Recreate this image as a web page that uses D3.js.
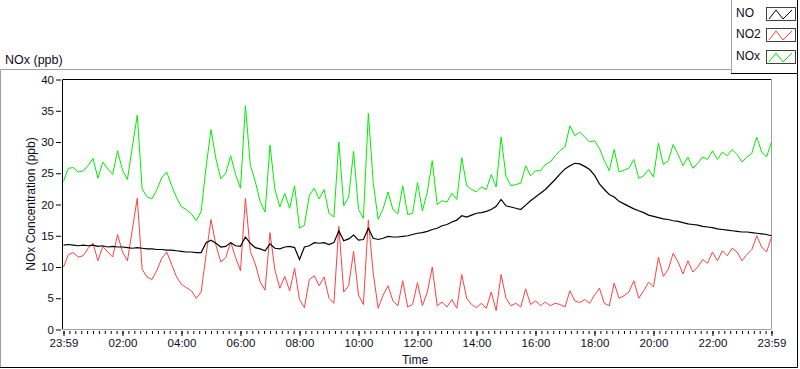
<!DOCTYPE html>
<html>
<head>
<meta charset="utf-8">
<script src="https://cdn.jsdelivr.net/npm/d3@7"></script>
<style>
  body { margin: 0; background: #fff; }
  svg { display: block; font-family: "Liberation Sans", Arial, sans-serif; }
</style>
</head>
<body>
<svg id="chart" width="800" height="369"></svg>
<script>
// readings every 10 minutes, from 23:59 to 23:59 (hours 0..24)
const stepHours = 10 / 60;

const noValues = [
  13.5,13.6,13.5,13.4,13.5,13.4,13.5,13.3,13.4,13.2,13.3,13.2,13.2,13.1,13.0,13.1,13.0,12.9,12.9,
  12.8,12.8,12.7,12.7,12.6,12.5,12.4,12.4,12.3,12.3,
  13.9,14.3,13.8,13.2,13.3,13.9,13.4,13.3,14.8,13.8,13.1,12.9,12.6,13.7,13.0,12.9,13.2,13.3,13.1,11.2,
  13.2,13.4,13.9,13.8,13.9,13.6,13.9,15.8,14.2,14.5,15.1,14.3,14.4,16.2,14.6,14.4,14.6,14.9,14.8,14.8,
  14.9,15.0,15.2,15.4,15.5,15.7,16.0,16.2,16.6,16.8,17.2,17.5,18.2,18.0,18.3,18.6,18.7,18.9,19.2,19.7,
  20.8,19.8,19.6,19.4,19.2,19.9,20.6,21.2,21.8,22.4,23.2,24.0,24.9,25.7,26.2,26.6,26.5,26.1,25.6,24.7,
  23.3,22.4,21.6,21.2,20.5,20.1,19.7,19.3,19.0,18.7,18.3,18.1,17.9,17.7,17.6,17.4,17.3,17.1,16.9,16.8,
  16.7,16.5,16.4,16.3,16.1,16.0,15.9,15.8,15.7,15.6,15.6,15.5,15.4,15.3,15.2,15.0
];

const no2Values = [
  10.0,12.0,12.3,11.6,11.8,13.0,13.8,11.0,13.3,12.4,11.6,15.2,12.4,11.0,16.0,21.0,9.6,8.4,8.0,
  9.5,11.4,12.4,10.4,8.4,7.2,6.7,6.2,5.0,6.0,
  12.0,17.6,13.5,10.8,11.5,14.0,11.5,9.4,21.0,12.5,10.5,7.6,6.3,15.5,9.5,6.6,8.5,6.2,9.8,4.8,
  3.5,8.0,8.6,7.0,8.4,5.0,4.2,16.5,6.0,7.0,12.5,5.5,4.0,17.5,9.0,3.4,5.5,7.0,4.6,3.8,
  7.8,3.6,4.0,7.5,3.8,6.0,10.0,3.8,4.4,3.6,4.8,3.4,8.8,5.0,4.0,3.5,4.2,3.4,6.0,3.0,
  8.8,5.0,3.8,4.2,3.6,6.5,4.0,4.6,3.8,4.4,3.8,4.2,4.0,3.6,6.2,4.6,4.3,4.8,4.2,5.5,
  6.6,4.2,3.8,7.4,5.0,5.4,6.0,7.8,5.0,6.2,7.6,6.8,11.6,8.5,9.6,12.2,10.8,8.9,11.0,9.2,
  10.0,11.2,10.6,12.4,11.0,12.6,11.8,13.0,12.4,11.0,12.0,12.8,15.0,13.2,12.4,14.8
];

const noxValues = [
  23.7,25.8,25.9,25.2,25.4,26.2,27.4,24.2,26.8,25.7,24.8,28.6,25.5,24.0,29.2,34.3,22.5,21.2,20.9,
  22.4,24.3,25.2,23.0,21.1,19.6,19.2,18.5,17.4,18.9,
  26.0,32.0,27.3,24.1,25.0,27.8,24.8,22.6,35.8,26.3,23.7,20.5,18.8,29.5,22.4,19.6,21.8,19.4,23.0,16.2,
  16.7,21.5,22.6,20.9,22.4,18.6,18.0,30.0,19.8,21.2,28.5,19.2,17.8,34.6,23.5,17.6,19.3,22.0,19.2,18.5,
  23.0,18.4,18.6,23.5,19.0,22.0,27.0,20.0,20.6,20.4,21.8,20.8,27.5,23.0,22.4,22.0,22.8,22.4,24.8,22.8,
  30.8,24.5,23.0,23.2,23.4,26.2,24.6,25.4,25.4,26.4,26.8,27.8,28.6,29.2,32.6,31.0,31.6,30.8,30.0,30.2,
  29.0,27.0,25.4,28.8,25.2,25.5,25.8,27.2,24.2,24.6,25.6,24.4,29.8,26.4,27.0,29.6,28.0,26.2,27.6,25.8,
  26.6,27.6,27.2,28.6,27.2,28.4,27.8,28.8,28.0,26.8,27.6,28.2,30.8,28.4,27.6,30.0
];

const seriesNames = ["NO", "NO2", "NOx"];
const seriesColors = ["#000000", "#ff4040", "#00f000"];
const yTicks = [0, 5, 10, 15, 20, 25, 30, 35, 40];
const xTickHours = [0, 2, 4, 6, 8, 10, 12, 14, 16, 18, 20, 22, 24];
const xTickLabels = ["23:59", "02:00", "04:00", "06:00", "08:00", "10:00", "12:00",
                     "14:00", "16:00", "18:00", "20:00", "22:00", "23:59"];

const svg = d3.select("#chart");
const textColor = "#0c0c1e";

const x = d3.scaleLinear().domain([0, 24]).range([63.5, 771.5]);
const y = d3.scaleLinear().domain([0, 40]).range([329.5, 79.5]);

// outer panel frame
svg.append("path").attr("d", "M0.5,367 V69.5 H731").attr("fill", "none").attr("stroke", "#a0a0a0");
svg.append("path").attr("d", "M0,367.5 H797.5 V74").attr("fill", "none").attr("stroke", "#000");

// plot area border
svg.append("path").attr("d", "M62.5,330 V79.5 H771").attr("fill", "none").attr("stroke", "#000");
svg.append("path").attr("d", "M62,329.5 H771.5 V79").attr("fill", "none").attr("stroke", "#a0a0a0");

svg.append("text").attr("x", 5).attr("y", 64).attr("font-size", "12.5px").attr("fill", textColor).text("NOx (ppb)");

// y axis
const yAxis = d3.axisLeft(y).tickValues(yTicks).tickSize(5).tickPadding(2);
const gy = svg.append("g").attr("transform", "translate(61,0)").call(yAxis);
gy.select(".domain").remove();
gy.selectAll("text").attr("font-size", "11.5px").attr("font-family", "Liberation Sans, Arial, sans-serif").attr("fill", textColor);

// x axis, minor ticks every 12 minutes
const minorAxis = d3.axisBottom(x).tickValues(d3.range(0, 24.01, 0.2)).tickSize(3).tickFormat("");
const gxm = svg.append("g").attr("transform", "translate(0,331)").call(minorAxis);
gxm.select(".domain").remove();

const xAxis = d3.axisBottom(x).tickValues(xTickHours).tickSize(5).tickPadding(3)
  .tickFormat((d, i) => xTickLabels[i]);
const gx = svg.append("g").attr("transform", "translate(0,331)").call(xAxis);
gx.select(".domain").remove();
gx.selectAll("text").attr("font-size", "11.5px").attr("font-family", "Liberation Sans, Arial, sans-serif").attr("fill", textColor);

svg.append("text").attr("x", 415).attr("y", 364).attr("text-anchor", "middle")
  .attr("font-size", "12px").attr("fill", textColor).text("Time");

svg.append("text").attr("transform", "translate(35,204) rotate(-90)").attr("text-anchor", "middle")
  .attr("font-size", "12px").attr("fill", textColor).text("NOx Concentration (ppb)");

// series lines
const allSeries = [noValues, no2Values, noxValues];
const line = d3.line().x((d, i) => x(i * stepHours)).y(d => y(d));

svg.append("g").selectAll("path").data([2, 1, 0]).join("path")
  .attr("d", k => line(allSeries[k]))
  .attr("fill", "none")
  .attr("stroke", k => seriesColors[k])
  .attr("stroke-width", k => k === 0 ? 1.2 : 1);

// legend
const legend = svg.append("g");
legend.append("path").attr("d", "M731.5,0 V73").attr("stroke", "#a0a0a0");
legend.append("path").attr("d", "M731,73.5 H797.5 V0").attr("fill", "none").attr("stroke", "#000");

const rows = legend.selectAll("g.row").data(seriesNames).join("g")
  .attr("class", "row")
  .attr("transform", (d, i) => `translate(0,${[7, 28, 50][i]})`);

rows.append("text").attr("x", 736).attr("y", 10).attr("font-size", "12px").attr("fill", textColor).text(d => d);
rows.append("rect").attr("x", 766.5).attr("y", 0.5).attr("width", 29).attr("height", 13)
  .attr("fill", "#fff").attr("stroke", "#404040");
rows.append("path")
  .attr("d", "M769,12 L776,3 L783,12 L792,3")
  .attr("fill", "none")
  .attr("stroke", (d, i) => seriesColors[i]);
</script>
</body>
</html>
